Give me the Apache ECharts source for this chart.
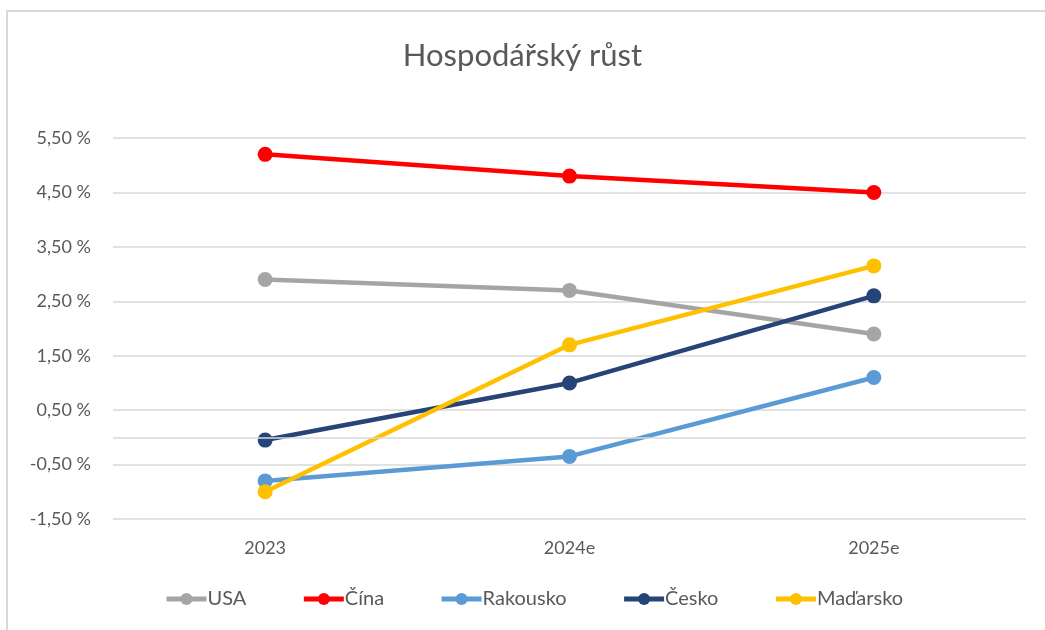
<!DOCTYPE html>
<html>
<head>
<meta charset="utf-8">
<script src="https://cdn.jsdelivr.net/npm/echarts@6/dist/echarts.min.js"></script>
<style>
html,body{margin:0;padding:0;background:#fff;overflow:hidden;}
#frame{position:absolute;left:6px;top:10px;width:1100px;height:700px;border:2px solid #d9d9d9;box-sizing:border-box;}
#chart{position:absolute;left:0;top:0;width:1045px;height:630px;}
</style>
</head>
<body>
<div id="frame"></div>
<div id="chart"></div>
<script>
const categories = ['2023', '2024e', '2025e'];
const usa = [2.9, 2.7, 1.9];
const cina = [5.2, 4.8, 4.5];
const rakousko = [-0.8, -0.35, 1.1];
const cesko = [-0.05, 1.0, 2.6];
const madarsko = [-1.0, 1.7, 3.15];
const seriesNames = ['USA', 'Čína', 'Rakousko', 'Česko', 'Maďarsko'];
const seriesColors = ['#a5a5a5', '#ff0000', '#5b9bd5', '#264478', '#ffc000'];
const seriesData = [usa, cina, rakousko, cesko, madarsko];

const font = 'Lato, "Open Sans", sans-serif';
const chart = echarts.init(document.getElementById('chart'), null, {renderer: 'canvas'});

const series = seriesNames.map((name, i) => ({
  name: name,
  type: 'line',
  data: seriesData[i],
  symbol: 'circle',
  symbolSize: 15,
  z: 3,
  lineStyle: {width: 4.5, color: seriesColors[i]},
  itemStyle: {color: seriesColors[i]},
  emphasis: {disabled: true}
}));
series.push({
  name: 'zero',
  type: 'line',
  data: [],
  z: 1,
  silent: true,
  markLine: {
    silent: true,
    symbol: 'none',
    label: {show: false},
    lineStyle: {color: '#d9d9d9', width: 1.5, type: 'solid'},
    data: [{yAxis: 0}]
  }
});

chart.setOption({
  animation: false,
  textStyle: {fontFamily: font},
  title: {
    text: 'Hospodářský růst',
    left: 'center',
    top: 35,
    textStyle: {fontFamily: font, fontSize: 31, fontWeight: 'normal', color: '#595959'}
  },
  grid: {left: 113, right: 19, top: 138, bottom: 111, containLabel: false},
  xAxis: {
    type: 'category',
    data: categories,
    boundaryGap: true,
    axisLine: {show: false},
    axisTick: {show: false},
    axisLabel: {fontFamily: font, fontSize: 18, color: '#595959', margin: 20}
  },
  yAxis: {
    type: 'value',
    min: -1.5,
    max: 5.5,
    interval: 1,
    axisLine: {show: false},
    axisTick: {show: false},
    splitLine: {lineStyle: {color: '#d9d9d9', width: 1.5}},
    axisLabel: {
      fontFamily: font, fontSize: 18, color: '#595959', margin: 22,
      formatter: v => v.toFixed(2).replace('.', ',') + ' %'
    }
  },
  legend: {
    data: seriesNames,
    bottom: 16,
    left: 159,
    itemWidth: 40,
    itemHeight: 15,
    itemGap: 55,
    lineStyle: {width: 5},
    textStyle: {fontFamily: font, fontSize: 20, color: '#595959', padding: [0, 0, 0, -4]}
  },
  series: series
});
</script>
</body>
</html>
